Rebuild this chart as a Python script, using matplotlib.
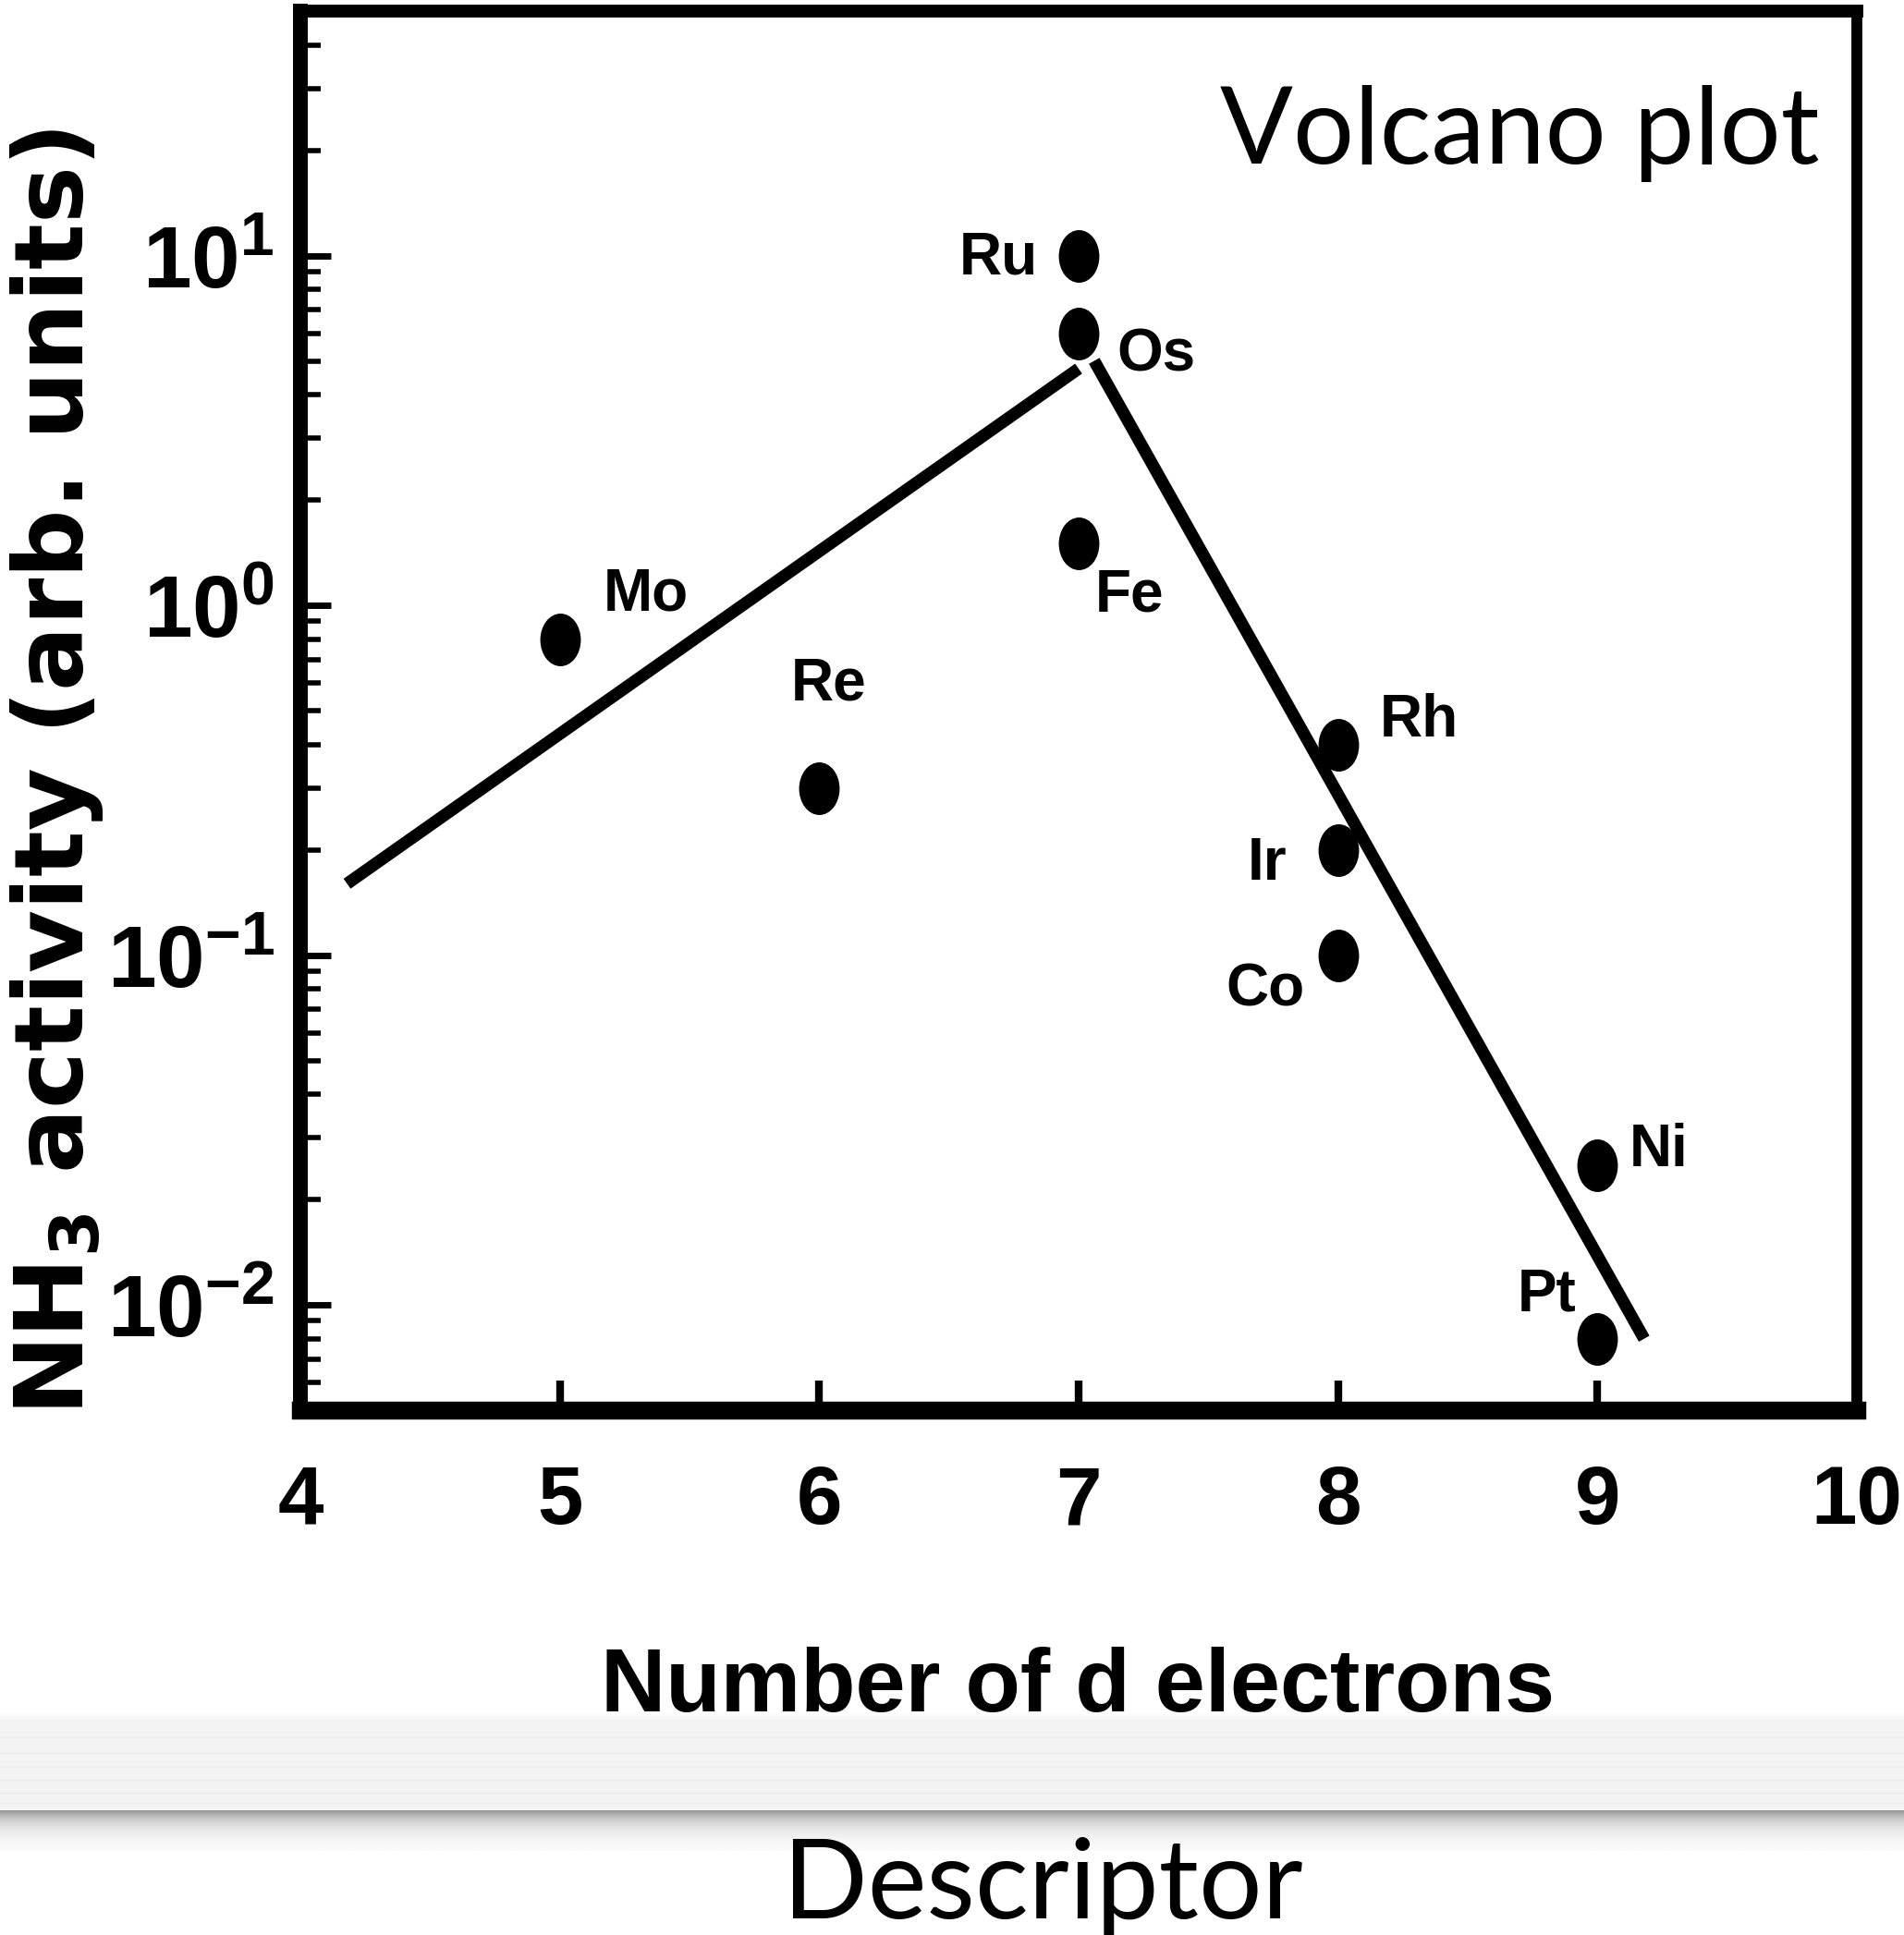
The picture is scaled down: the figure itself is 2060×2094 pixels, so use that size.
import matplotlib
matplotlib.use('Agg')
import matplotlib.pyplot as plt
import numpy as np
from matplotlib.path import Path
from matplotlib.transforms import Affine2D
from matplotlib.ticker import LogLocator, FixedLocator, FuncFormatter, NullFormatter, NullLocator

# ---------------- data ----------------
elements = ['Mo', 'Re', 'Ru', 'Os', 'Fe', 'Rh', 'Ir', 'Co', 'Ni', 'Pt']
d_electrons = [5, 6, 7, 7, 7, 8, 8, 8, 9, 9]
activity = [0.80, 0.30, 10.0, 6.0, 1.5, 0.40, 0.20, 0.10, 0.025, 0.008]

fit_left_x = [4.18, 7.0]
fit_left_y = [0.16, 4.75]
fit_right_x = [7.06, 9.18]
fit_right_y = [5.0, 0.008]

x_ticks = [4, 5, 6, 7, 8, 9, 10]
x_ticklabels = ['4', '5', '6', '7', '8', '9', '10']
y_ticks = [1e-2, 1e-1, 1e0, 1e1]
x_limits = [4, 10]
y_limits = [0.005, 50]

title_text = 'Volcano plot'
xlabel_text = 'Number of d electrons'
ylabel_text = r'NH$_\mathbf{3}$ activity (arb. units)'
footer_text = 'Descriptor'

# label placement (pixel offsets from the point, horizontal alignment)
label_offsets = {
    'Mo': (47, 31, 'left'),
    'Re': (10, 95, 'center'),
    'Ru': (-44, -20, 'right'),
    'Os': (41, -41, 'left'),
    'Fe': (18, -73, 'left'),
    'Rh': (45, 9, 'left'),
    'Ir': (-55, -32, 'right'),
    'Co': (-36, -55, 'right'),
    'Ni': (34, -1, 'left'),
    'Pt': (-23, 30, 'right'),
}

# ---------------- style ----------------
SANS = ['Liberation Sans', 'DejaVu Sans']
plt.rcParams['font.family'] = SANS
plt.rcParams['mathtext.fontset'] = 'custom'
plt.rcParams['mathtext.rm'] = 'Liberation Sans:bold'
plt.rcParams['mathtext.bf'] = 'Liberation Sans:bold'
plt.rcParams['mathtext.it'] = 'Liberation Sans:bold'
plt.rcParams['mathtext.sf'] = 'Liberation Sans:bold'
plt.rcParams['mathtext.default'] = 'bf'

W, H = 2060, 2094
DPI = 100
fig = plt.figure(figsize=(W / DPI, H / DPI), dpi=DPI)
fig.patch.set_facecolor('white')

def fx(px):
    return px / W

def fy(py):
    return 1 - py / H

# ---------------- bottom paper band + shadow ----------------
band_top, band_bot = 1863, 1959
band = plt.Rectangle((0, fy(band_bot)), 1, fy(band_top) - fy(band_bot),
                     transform=fig.transFigure, facecolor='#f3f3f3',
                     edgecolor='none', zorder=0)
fig.patches.append(band)
# faint paper streaks inside the band
streak_rows = [1880, 1897, 1912, 1926, 1940, 1951]
for r in streak_rows:
    fig.lines.append(plt.Line2D([0, 1], [fy(r), fy(r)], transform=fig.transFigure,
                                color='#ebebeb', lw=1.0, zorder=0.5))
# soft top edge of the band
ax_fade = fig.add_axes([0, fy(band_top), 1, fy(band_top - 10) - fy(band_top)])
fade = np.linspace(1.0, 0.953, 20).reshape(-1, 1)
ax_fade.imshow(fade, cmap='gray', vmin=0, vmax=1, aspect='auto',
               extent=[0, 1, 0, 1], interpolation='bilinear')
ax_fade.set_axis_off()
# shadow below the band
sh_top, sh_bot = band_bot, 2003
ax_sh = fig.add_axes([0, fy(sh_bot), 1, fy(sh_top) - fy(sh_bot)])
t = np.linspace(0, 1, 200)
shade = (1 - 0.42 * np.exp(-t / 0.32)).reshape(-1, 1)
ax_sh.imshow(shade, cmap='gray', vmin=0, vmax=1, aspect='auto',
             extent=[0, 1, 0, 1], interpolation='bilinear')
ax_sh.set_axis_off()

# ---------------- main axes ----------------
ax_left, ax_right, ax_top, ax_bot = 325, 2009, 12, 1526
ax = fig.add_axes([fx(ax_left), fy(ax_bot), fx(ax_right) - fx(ax_left), fy(ax_top) - fy(ax_bot)])
ax.set_facecolor('none')
ax.set_yscale('log')
ax.set_xlim(*x_limits)
ax.set_ylim(*y_limits)

ax.spines['left'].set_linewidth(11.5)
ax.spines['bottom'].set_linewidth(14.0)
ax.spines['top'].set_linewidth(10.0)
ax.spines['right'].set_linewidth(8.5)
for s in ax.spines.values():
    s.set_capstyle('projecting')

# fit lines
ax.plot(fit_left_x, fit_left_y, color='black', lw=9.5, solid_capstyle='butt', zorder=2)
ax.plot(fit_right_x, fit_right_y, color='black', lw=9.5, solid_capstyle='butt', zorder=2)

# elliptical markers
ellipse = Path.unit_circle().transformed(Affine2D().scale(0.77, 1.0))
ax.plot(d_electrons, activity, linestyle='none', marker=ellipse,
        markersize=41, color='black', markeredgewidth=0, zorder=3)

for el, xv, yv in zip(elements, d_electrons, activity):
    dx, dy, ha = label_offsets[el]
    ax.annotate(el, (xv, yv), xytext=(dx, dy), textcoords='offset pixels',
                ha=ha, va='baseline', fontsize=46, fontweight='bold',
                color='black', zorder=4)

# ticks
ax.xaxis.set_major_locator(FixedLocator(x_ticks))
ax.set_xticklabels(x_ticklabels)
ax.xaxis.set_minor_locator(NullLocator())
ax.yaxis.set_major_locator(FixedLocator(y_ticks))
ax.yaxis.set_minor_locator(LogLocator(base=10, subs=np.arange(2, 10)))
ax.yaxis.set_minor_formatter(NullFormatter())
ax.yaxis.set_major_formatter(FuncFormatter(lambda v, p: r'$10^{%d}$' % int(round(np.log10(v)))))

ax.tick_params(axis='x', which='major', direction='in', length=23, width=6,
               pad=42, labelsize=64, top=False)
ax.tick_params(axis='y', which='major', direction='in', length=24, width=5,
               pad=20, labelsize=68, right=False)
ax.tick_params(axis='y', which='minor', direction='in', length=16, width=4, right=False)
for lab in ax.get_xticklabels():
    lab.set_fontweight('bold')

# ---------------- texts ----------------
fig.text(fx(1968), fy(177), title_text, ha='right', va='baseline',
         fontsize=84, family=['Lato', 'DejaVu Sans'], color='black')
fig.text(fx(1166), fy(1852), xlabel_text, ha='center', va='baseline',
         fontsize=70, fontweight='bold', color='black')
fig.text(fx(90), fy(835), ylabel_text, rotation=90, rotation_mode='anchor',
         ha='center', va='baseline', fontsize=75, fontweight='bold',
         family=['DejaVu Sans'], math_fontfamily='dejavusans', color='black')
fig.text(fx(1128), fy(2076), footer_text, ha='center', va='baseline',
         fontsize=87, family=['Lato', 'DejaVu Sans'], color='black')

fig.savefig('out.png', dpi=DPI, facecolor='white')
